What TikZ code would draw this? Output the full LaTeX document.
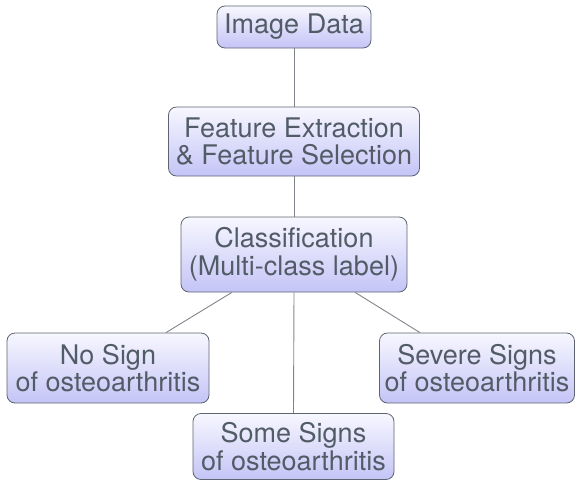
\documentclass[tikz,border=0pt]{standalone}
\usepackage{fontspec}
\setmainfont{TeX Gyre Heros}
\definecolor{txtc}{HTML}{525C66}
\definecolor{edgec}{HTML}{5E6472}
\definecolor{topc}{HTML}{F7F7FF}
\definecolor{botc}{HTML}{C4C4F7}
\definecolor{linkc}{HTML}{80858C}
\begin{document}
\begin{tikzpicture}[x=1pt,y=-1pt,
  box/.style={draw=edgec, line width=0.8pt, rounded corners=8pt,
    top color=topc, bottom color=botc, text=txtc, align=center,
    inner sep=0pt, font=\fontsize{27}{27.5}\selectfont},
  linkline/.style={draw=linkc, line width=0.9pt}]
\useasboundingbox (0,0) rectangle (576,480);
\clip (0,0) rectangle (576,480);
\node[box, minimum width=154pt, minimum height=42pt] (img) at (294,27) {Image Data};
\node[box, minimum width=251pt, minimum height=69pt] (feat) at (294,141.5) {Feature Extraction\\\& Feature Selection};
\node[box, minimum width=226pt, minimum height=75pt] (cls) at (294,254.5) {Classification\\(Multi-class label)};
\node[box, minimum width=202pt, minimum height=70pt] (no) at (108,368) {No Sign\\of osteoarthritis};
\node[box, minimum width=195pt, minimum height=70pt] (sev) at (477,368) {Severe Signs\\of osteoarthritis};
\node[box, minimum width=201pt, minimum height=66pt] (some) at (293.5,446.5) {Some Signs\\of osteoarthritis};
\draw[linkline] (img) -- (feat);
\draw[linkline] (feat) -- (cls);
\draw[linkline] (cls) -- (no);
\draw[linkline] (cls) -- (sev);
\draw[linkline] (cls.south) -- (some.north);
\end{tikzpicture}
\end{document}
